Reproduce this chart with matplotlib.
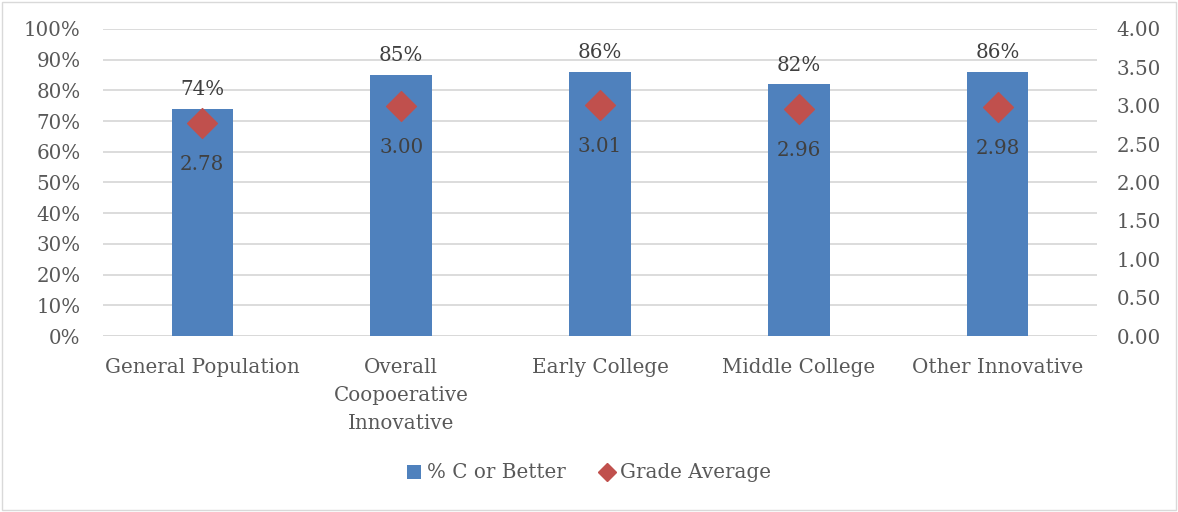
import matplotlib
matplotlib.use("Agg")
import matplotlib.pyplot as plt
from matplotlib.patches import Rectangle
from matplotlib.lines import Line2D
from matplotlib.patches import Patch

categories = ["General Population", "Overall\nCoopoerative\nInnovative", "Early College",
              "Middle College", "Other Innovative"]
pct_c_or_better = [74, 85, 86, 82, 86]
grade_average = [2.78, 3.00, 3.01, 2.96, 2.98]
left_ticks = list(range(0, 101, 10))
right_ticks = [0, 0.5, 1.0, 1.5, 2.0, 2.5, 3.0, 3.5, 4.0]

plt.rcParams['font.family'] = ['DejaVu Serif']
FS = 14.3
TICKC = '#595959'
LABC = '#404040'
BAR = '#4F81BD'
DIA = '#C0504D'

fig = plt.figure(figsize=(11.78, 5.12), dpi=100)
ax = fig.add_axes([0.0874, 0.34375, 0.9312 - 0.0874, 0.9434 - 0.34375])
x = list(range(len(categories)))
bars = ax.bar(x, pct_c_or_better, width=0.31, color=BAR, zorder=2)
ax.set_xlim(-0.5, len(categories) - 0.5)
ax.set_ylim(0, 100)
ax.set_yticks(left_ticks)
ax.set_yticklabels([f"{t}%" for t in left_ticks])
ax.yaxis.grid(True, color='#D9D9D9', linewidth=1.3, zorder=0)
ax.set_axisbelow(True)
for s in ax.spines.values():
    s.set_visible(False)
ax.axhline(0, color='#D9D9D9', linewidth=1.3, zorder=1)
ax.tick_params(axis='both', length=0, labelsize=FS, labelcolor=TICKC)
ax.tick_params(axis='y', pad=16)
ax.set_xticks(x)
ax.set_xticklabels(categories, linespacing=1.6)
ax.tick_params(axis='x', pad=15.5)
for xi, v in zip(x, pct_c_or_better):
    ax.annotate(f"{v}%", (xi, v), xytext=(0, 7), textcoords='offset points',
                ha='center', va='bottom', fontsize=FS, color=LABC)

ax2 = ax.twinx()
ax2.set_ylim(0, 4)
ax2.set_yticks(right_ticks)
ax2.set_yticklabels([f"{t:.2f}" for t in right_ticks])
for s in ax2.spines.values():
    s.set_visible(False)
ax2.tick_params(axis='y', length=0, labelsize=FS, labelcolor=TICKC, pad=14)
ax2.scatter(x, grade_average, marker='D', s=230, color=DIA, zorder=3)
for xi, v in zip(x, grade_average):
    ax2.annotate(f"{v:.2f}", (xi, v), xytext=(0, -30), textcoords='offset points',
                 ha='center', va='center', fontsize=FS, color=LABC)

handles = [Patch(facecolor=BAR, edgecolor='none'),
           Line2D([], [], marker='D', linestyle='none', color=DIA, markersize=9)]
fig.legend(handles, ["% C or Better", "Grade Average"], loc='center',
           bbox_to_anchor=(0.5, 1 - 473 / 512), ncol=2, frameon=False,
           fontsize=FS, labelcolor=TICKC, handlelength=0.7, handletextpad=0.3,
           columnspacing=1.7)

fig.patches.append(Rectangle((0.002, 0.003), 0.996, 0.994, transform=fig.transFigure,
                             fill=False, edgecolor='#D9D9D9', linewidth=1))
fig.savefig("out.png", dpi=100, facecolor='white')
